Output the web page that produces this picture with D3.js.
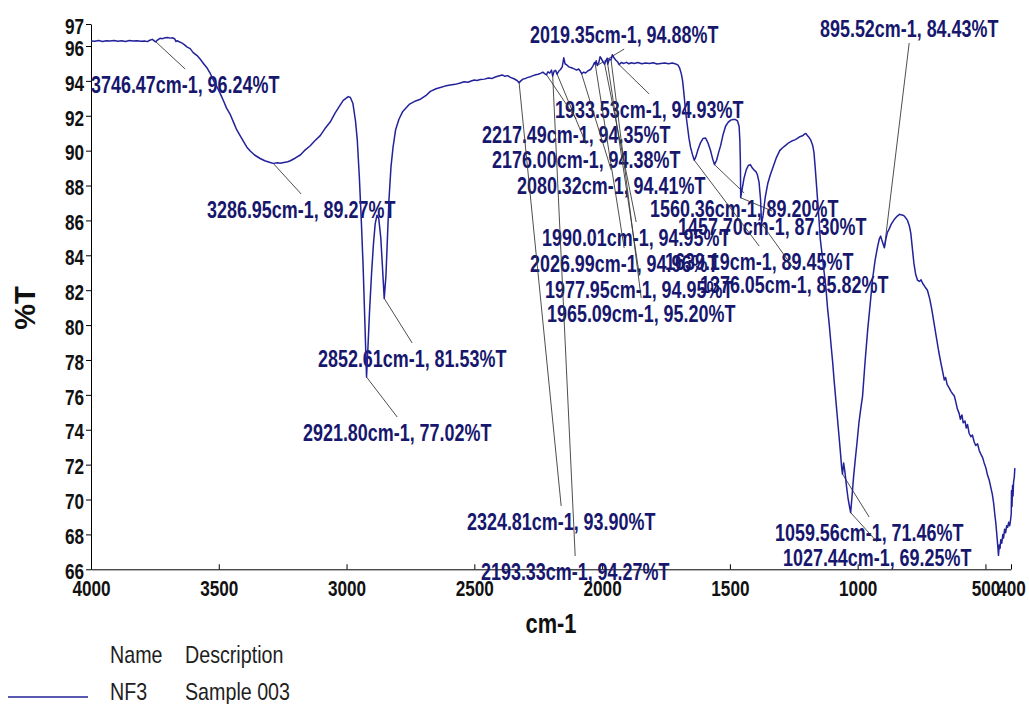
<!DOCTYPE html>
<html><head><meta charset="utf-8">
<script src="https://cdn.jsdelivr.net/npm/d3@7"></script>
<style>html,body{margin:0;padding:0;background:#fff;} svg{display:block;}</style>
</head><body>
<svg id="chart" width="1029" height="704"></svg>
<script>
// ---------------- data ----------------
const wavenumber = [4000,3985,3970,3955,3940,3925,3910,3895,3880,3865,3850,3835,3820,3805,3790,3780,3770,3760,3750,3746.47,3740,3730,3720,3710,3700,3690,3680,3672,3668,3662,3655,3645,3635,3625,3612,3600,3585,3573,3560,3545,3534,3520,3505,3495,3480,3470,3456,3440,3430,3416,3400,3390,3377,3360,3338,3320,3299,3286.95,3270,3260,3245,3230,3220,3200,3181,3165,3142,3125,3103,3085,3064,3045,3032,3013,3000,2993,2985,2975,2965,2958,2950,2942,2935,2928,2921.8,2916,2910,2902,2895,2888,2881,2874,2866,2859,2852.61,2846,2840,2834,2826,2818,2808,2795,2780,2755,2730,2711,2690,2672,2650,2633,2615,2594,2575,2555,2540,2525,2515,2500,2490,2476,2460,2445,2430,2418,2405,2391,2380,2370,2359,2345,2333,2324.81,2318,2310,2300,2290,2280,2270,2260,2250,2241,2232,2225,2217.49,2212,2205,2198,2193.33,2188,2182,2176,2170,2163,2156,2150,2145,2137,2130,2120,2111,2100,2092,2085,2080.32,2072,2065,2055,2045,2036,2030,2026.99,2023,2019.35,2013,2008,2004,1997,1990.01,1985,1980,1977.95,1972,1965.09,1960,1955,1947,1940,1933.53,1925,1915,1905,1895,1885,1875,1860,1845,1830,1815,1800,1785,1771,1755,1740,1725,1712,1703,1697,1690,1685,1680,1673,1667,1660,1654,1647,1641,1639.19,1632,1625,1615,1605,1595,1586,1576,1567,1560.36,1552,1544,1536,1527,1517,1507,1497,1487,1478,1470,1464,1461,1459,1457.7,1452,1445,1436,1428,1420,1412,1403,1398,1392,1386,1380,1376.05,1370,1362,1352,1342,1330,1318,1305,1295,1282,1270,1258,1246,1236,1226,1216,1208,1202,1196,1190,1184,1176,1171,1166,1160,1154,1146,1138,1131,1124,1118,1111,1105,1098,1092,1086,1080,1074,1068,1063,1059.56,1055,1050,1044,1038,1032,1027.44,1022,1016,1010,1003,995,988,981,971,961,951,942,932,922,915,910,904,895.52,890,884,877,868,857,845,836,830,820,812,805,798,792,786,780,773,766,758,752,746,737,727,718,710,701,692,683,674,667,661,656,650,642,635,628,622,616,610,603,598,592,587,580,575,570,564,557,551,544,538,531,524,518,511,505,498,492,485,479,473,468,463,459,455,451,449,446,443,440,436,432,429,425,421,417,413,409,405,402,399,398,396,394,392,390,387,385];
const transmittance = [96.29,96.27,96.31,96.26,96.30,96.28,96.32,96.27,96.30,96.26,96.31,96.28,96.30,96.27,96.29,96.25,96.33,96.38,96.26,96.24,96.34,96.44,96.42,96.47,96.48,96.45,96.47,96.40,96.26,96.30,96.24,96.18,96.08,95.95,95.85,95.62,95.45,95.25,95.00,94.72,94.45,94.00,93.60,93.30,92.80,92.45,92.10,91.55,91.20,90.85,90.45,90.20,89.98,89.75,89.55,89.42,89.32,89.27,89.30,89.28,89.32,89.36,89.42,89.58,89.75,90.00,90.28,90.55,90.86,91.25,91.64,92.15,92.45,92.88,93.02,93.10,93.05,92.70,91.70,90.60,88.50,85.90,83.30,80.00,77.02,78.80,80.80,83.00,84.60,85.80,86.30,86.10,85.00,83.20,81.53,82.80,85.00,87.20,89.10,90.20,91.20,91.80,92.25,92.65,92.85,92.95,93.15,93.40,93.55,93.62,93.70,93.76,93.80,93.88,93.95,93.92,93.98,94.05,94.02,94.08,94.10,94.16,94.14,94.22,94.28,94.34,94.26,94.30,94.20,94.12,94.02,93.90,94.00,94.10,94.14,94.20,94.24,94.30,94.35,94.38,94.43,94.50,94.42,94.35,94.52,94.45,94.62,94.27,94.55,94.60,94.38,94.55,94.65,94.80,95.32,94.98,94.90,94.80,94.75,94.70,94.62,94.68,94.55,94.41,94.50,94.45,94.58,94.65,94.85,95.05,94.96,95.15,94.88,95.05,95.38,95.30,95.10,94.95,95.15,95.30,94.95,95.25,95.20,95.50,95.35,95.20,95.10,94.93,95.05,95.00,95.06,94.98,95.04,95.00,95.05,94.98,95.03,95.00,95.04,94.97,95.00,95.03,94.98,95.02,94.97,94.90,94.75,94.40,94.00,93.30,92.20,91.50,90.70,90.20,89.80,89.52,89.45,89.70,90.05,90.45,90.70,90.72,90.45,90.02,89.50,89.20,89.45,89.90,90.30,90.90,91.40,91.62,91.75,91.78,91.78,91.70,91.40,90.60,89.40,87.30,87.80,88.40,88.90,89.15,89.20,89.00,88.85,88.80,88.60,88.20,87.20,85.82,86.30,87.30,88.10,88.60,89.10,89.60,90.00,90.15,90.30,90.45,90.55,90.62,90.70,90.80,90.85,90.95,90.98,90.85,90.75,90.62,90.30,89.90,89.00,87.80,86.60,84.90,83.90,83.00,82.10,81.00,80.00,79.00,77.90,76.80,75.80,74.80,73.80,72.80,71.90,71.46,72.10,71.60,70.80,70.10,69.60,69.25,70.20,71.30,72.20,73.20,74.40,75.20,75.90,77.90,79.70,81.20,82.60,83.70,84.50,84.95,85.10,84.80,84.43,84.90,85.30,85.50,85.80,86.05,86.25,86.35,86.32,86.28,86.15,86.00,85.70,85.26,84.40,83.55,82.90,82.58,82.50,82.60,82.40,82.20,82.00,81.50,80.90,80.10,79.30,78.50,77.80,77.30,76.85,77.00,76.60,76.40,76.20,76.05,75.95,75.60,75.20,74.94,74.60,74.85,74.40,74.50,74.10,74.30,73.80,73.60,73.70,73.30,73.10,73.20,72.80,72.60,72.40,72.10,71.80,71.40,71.10,70.70,70.30,69.80,69.10,68.60,67.90,67.20,66.80,67.40,67.20,67.70,67.50,68.00,67.80,68.30,68.10,68.50,68.40,68.70,68.50,68.80,69.20,70.50,69.60,70.80,70.20,71.00,71.30,71.80];

const xTickValues = [4000,3500,3000,2500,2000,1500,1000,500,400];
const yMax = 97.26;
const yTickValues = [66,68,70,72,74,76,78,80,82,84,86,88,90,92,94,96,yMax];

const peakWave = [3746.47,3286.95,2921.80,2852.61,2324.81,2193.33,2217.49,2176.00,2080.32,2026.99,2019.35,1990.01,1977.95,1965.09,1933.53,1639.19,1560.36,1457.70,1376.05,1059.56,1027.44,895.52];
const peakT = [96.24,89.27,77.02,81.53,93.90,94.27,94.35,94.38,94.41,94.96,94.88,94.95,94.95,95.20,94.93,89.45,89.20,87.30,85.82,71.46,69.25,84.43];

const legendName = ["NF3"];
const legendDesc = ["Sample 003"];

// ---------------- layout (positions, not data) ----------------
const labelXY = [[91,93],[207,218],[303,441],[318,367],[467,530],[481,580],[482,143],[492,168],[517,194],[530,272],[530,43],[542,246],[545,298],[547,322],[555,118],[665,270],[650,217],[678,235],[700,293],[775,541],[783,566],[820,37]];

const SX = 0.78;
const FONT = "'Liberation Sans', Arial, Helvetica, sans-serif";
const LINE = "#22229a";
const TXT = "#17176e";

const svg = d3.select("#chart");
svg.append("rect").attr("width",1029).attr("height",704).attr("fill","#fff");

const x = d3.scaleLinear().domain([4000,400]).range([91,1011]);
const y = d3.scaleLinear().domain([66,yMax]).range([569.3,24]);

// axes
const xAxis = d3.axisBottom(x).tickValues(xTickValues).tickSizeInner(-5).tickSizeOuter(0).tickPadding(11).tickFormat(d3.format("d"));
svg.append("g").attr("transform","translate(0,569.3)").call(xAxis)
  .call(g=>{
    g.select(".domain").attr("stroke","#000");
    g.selectAll(".tick line").attr("stroke","#000");
    g.selectAll("text").attr("transform",`scale(${SX},1)`).style("font-family",FONT).style("font-size","22px").style("font-weight","bold").attr("fill","#111");
  });

const yAxis = d3.axisLeft(y).tickValues(yTickValues).tickSizeInner(5).tickSizeOuter(0).tickPadding(4).tickFormat(d=>String(Math.round(d)));
svg.append("g").attr("transform","translate(91,0)").call(yAxis)
  .call(g=>{
    g.select(".domain").attr("stroke","#000");
    g.selectAll(".tick line").attr("stroke","#000");
    g.selectAll("text").attr("transform",`scale(${SX},1)`).attr("dy","0.42em").style("font-family",FONT).style("font-size","22px").style("font-weight","bold").attr("fill","#111");
  });

// axis titles
svg.append("text").attr("transform","translate(25,308) rotate(-90)").attr("text-anchor","middle").attr("dominant-baseline","central")
  .style("font-family",FONT).style("font-size","29px").style("font-weight","bold").attr("fill","#111").text("%T");
svg.append("text").attr("transform",`translate(551,633) scale(${SX},1)`).attr("text-anchor","middle")
  .style("font-family",FONT).style("font-size","28px").style("font-weight","bold").attr("fill","#111").text("cm-1");

// annotations: text first, then leaders
const annG = svg.append("g");
const leadG = svg.append("g");
peakWave.forEach((w,i)=>{
  const [lx,ly] = labelXY[i];
  const t = annG.append("text").attr("transform",`translate(${lx},${ly}) scale(${SX},1)`)
    .style("font-family",FONT).style("font-size","23px").style("font-weight","bold").attr("fill",TXT)
    .text(`${w.toFixed(2)}cm-1, ${peakT[i].toFixed(2)}%T`);
  const width = t.node().getComputedTextLength()*SX;
  const px = x(w), py = y(peakT[i]);
  const ex = lx + width/2;
  const ey = ly < py ? ly + 6 : ly - 24;
  leadG.append("line").attr("x1",px).attr("y1",py).attr("x2",ex).attr("y2",ey)
    .attr("stroke","#3a3a3a").attr("stroke-width",0.9);
});

// spectrum
const line = d3.line().x(i=>x(wavenumber[i])).y(i=>y(transmittance[i]));
svg.append("path").attr("d",line(d3.range(wavenumber.length))).attr("fill","none")
  .attr("stroke",LINE).attr("stroke-width",1.5).attr("stroke-linejoin","round");

// legend
const lg = svg.append("g");
lg.append("line").attr("x1",8).attr("x2",88).attr("y1",697).attr("y2",697).attr("stroke",LINE).attr("stroke-width",1.4);
const legendText = (tx,ty,s)=>lg.append("text").attr("transform",`translate(${tx},${ty}) scale(0.82,1)`)
  .style("font-family",FONT).style("font-size","24px").attr("fill","#1e1e1e").text(s);
legendText(110,663,"Name");
legendText(185,663,"Description");
legendName.forEach((n,i)=>{ legendText(110,700+i*38,n); legendText(185,700+i*38,legendDesc[i]); });
</script>
</body></html>
